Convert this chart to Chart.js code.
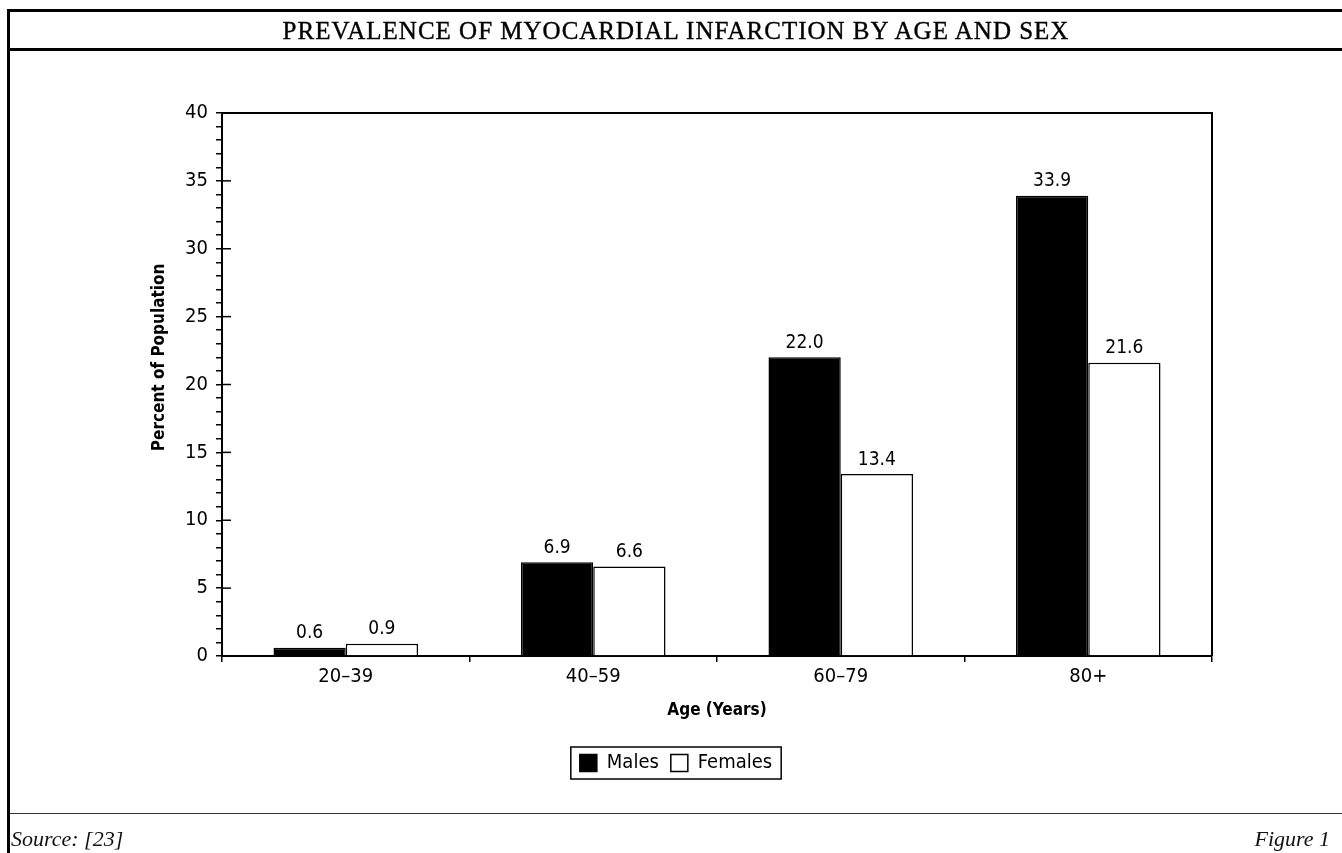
<!DOCTYPE html>
<html>
<head>
<meta charset="utf-8">
<script src="https://cdn.jsdelivr.net/npm/chart.js@4"></script>
<style>
    body { margin: 0; width: 1342px; height: 853px; overflow: hidden; background: #fff; }
    #khung { position: absolute; left: 7px; top: 9px; right: -10px; bottom: -10px; border-left: 3px solid #000; border-top: 3px solid #000; }
    #tieuDe { position: absolute; left: 10px; top: 12px; width: 1332px; height: 36px; border-bottom: 3px solid #000;
        font-family: 'Liberation Serif', serif; font-weight: normal; font-size: 25px; letter-spacing: 1px;
        -webkit-text-stroke: 0.4px #000; line-height: 38px; text-align: center; color: #000; }
    #chanTrang { position: absolute; left: 10px; top: 813px; width: 1332px; height: 40px; border-top: 1.5px solid #333;
        font-family: 'Liberation Serif', serif; font-style: italic; font-size: 22px; line-height: 50px; color: #111; }
    #chanTrang .trai { position: absolute; left: 1px; }
    #chanTrang .phai { position: absolute; right: 12px; }
    #myBarChart { position: absolute; left: 0; top: 0; }
</style>
</head>
<body>
<canvas id="myBarChart" width="1342" height="853"></canvas>
<div id="khung"></div>
<div id="tieuDe">PREVALENCE OF MYOCARDIAL INFARCTION BY AGE AND SEX</div>
<div id="chanTrang"><span class="trai">Source: [23]</span><span class="phai">Figure 1</span></div>
<script>
var labels = ['20\u201339', '40\u201359', '60\u201379', '80+'];
var males = [0.6, 6.9, 22.0, 33.9];
var females = [0.9, 6.6, 13.4, 21.6];
var yMin = 0;
var yMax = 40;
var yMajorStep = 5;
var yTitle = 'Percent of Population';

var fontFamily = "'DejaVu Sans Condensed', 'DejaVu Sans', sans-serif";

// nhan gia tri tren moi cot
var nhanCot = {
    id: 'nhanCot',
    afterDatasetsDraw: function (chart) {
        var ctx = chart.ctx;
        ctx.save();
        ctx.font = '19px ' + fontFamily;
        ctx.fillStyle = '#000';
        ctx.textAlign = 'center';
        ctx.textBaseline = 'bottom';
        chart.data.datasets.forEach(function (ds, i) {
            chart.getDatasetMeta(i).data.forEach(function (bar, j) {
                ctx.fillText(ds.data[j].toFixed(1), bar.x, bar.y - 5);
            });
        });
        ctx.restore();
    }
};

// khung vung ve, vach chia lon, ten truc tung va khung chu thich
var khungBieuDo = {
    id: 'khungBieuDo',
    afterDraw: function (chart) {
        var ctx = chart.ctx;
        var a = chart.chartArea;
        var y = chart.scales.y;
        ctx.save();
        ctx.strokeStyle = '#000';
        ctx.lineWidth = 2;
        ctx.beginPath();
        ctx.moveTo(a.left, a.top);
        ctx.lineTo(a.right, a.top);
        ctx.lineTo(a.right, a.bottom);
        ctx.stroke();
        ctx.lineWidth = 1.5;
        for (var v = yMin; v <= yMax; v += yMajorStep) {
            var py = y.getPixelForValue(v);
            ctx.beginPath();
            ctx.moveTo(a.left, py);
            ctx.lineTo(a.left + 9, py);
            ctx.stroke();
        }
        // ten truc tung (ban goc dat lech len tren)
        ctx.save();
        ctx.translate(160, y.getPixelForValue(22.0));
        ctx.rotate(-Math.PI / 2);
        ctx.font = 'bold 17px ' + fontFamily;
        ctx.fillStyle = '#000';
        ctx.textAlign = 'center';
        ctx.textBaseline = 'middle';
        ctx.fillText(yTitle, 0, 0);
        ctx.restore();

        var hb = chart.legend.legendHitBoxes;
        if (hb && hb.length) {
            var first = hb[0], last = hb[hb.length - 1];
            ctx.lineWidth = 1.5;
            ctx.strokeRect(first.left - 9, first.top - 6, last.left + last.width - first.left + 18, first.height + 12);
        }
        ctx.restore();
    }
};

var data = {
    labels: labels,
    datasets: [
        {
            label: 'Males',
            backgroundColor: '#000',
            borderColor: '#000',
            borderWidth: 1.5,
            data: males,
        },
        {
            label: 'Females',
            backgroundColor: '#fff',
            borderColor: '#000',
            borderWidth: 1.5,
            data: females,
        },
    ],
};

var options = {
    responsive: false,
    animation: false,
    layout: {
        padding: { left: 140, right: 130, top: 113, bottom: 70 },
    },
    datasets: {
        bar: { categoryPercentage: 0.584, barPercentage: 1.0 },
    },
    plugins: {
        legend: {
            position: 'bottom',
            labels: {
                color: '#000',
                font: { family: fontFamily, size: 20 },
                boxWidth: 17,
                boxHeight: 17,
                padding: 12,
            },
        },
        tooltip: { enabled: false },
    },
    scales: {
        x: {
            afterFit: function (scale) { scale.height = 85; },
            border: { display: true, color: '#000', width: 2 },
            grid: { drawOnChartArea: false, drawTicks: true, tickLength: 6, color: '#000', lineWidth: 1.5 },
            ticks: { color: '#000', font: { family: fontFamily, size: 20 }, padding: 3 },
            title: {
                display: true,
                text: 'Age (Years)',
                color: '#000',
                font: { family: fontFamily, size: 17, weight: 'bold' },
                padding: { top: 0, bottom: 20 },
            },
        },
        y: {
            min: yMin,
            max: yMax,
            afterFit: function (scale) { scale.width = 82; },
            border: { display: true, color: '#000', width: 2 },
            grid: { drawOnChartArea: false, drawTicks: true, tickLength: 6, color: '#000', lineWidth: 1.5 },
            ticks: {
                stepSize: 1,
                autoSkip: false,
                color: '#000',
                font: { family: fontFamily, size: 20 },
                padding: 8,
                callback: function (v) { return v % yMajorStep === 0 ? v : ''; },
            },
        },
    },
};

var ctx = document.getElementById('myBarChart').getContext('2d');
var _myChart = new Chart(ctx, {
    type: 'bar',
    data: data,
    options: options,
    plugins: [nhanCot, khungBieuDo],
});
</script>
</body>
</html>
